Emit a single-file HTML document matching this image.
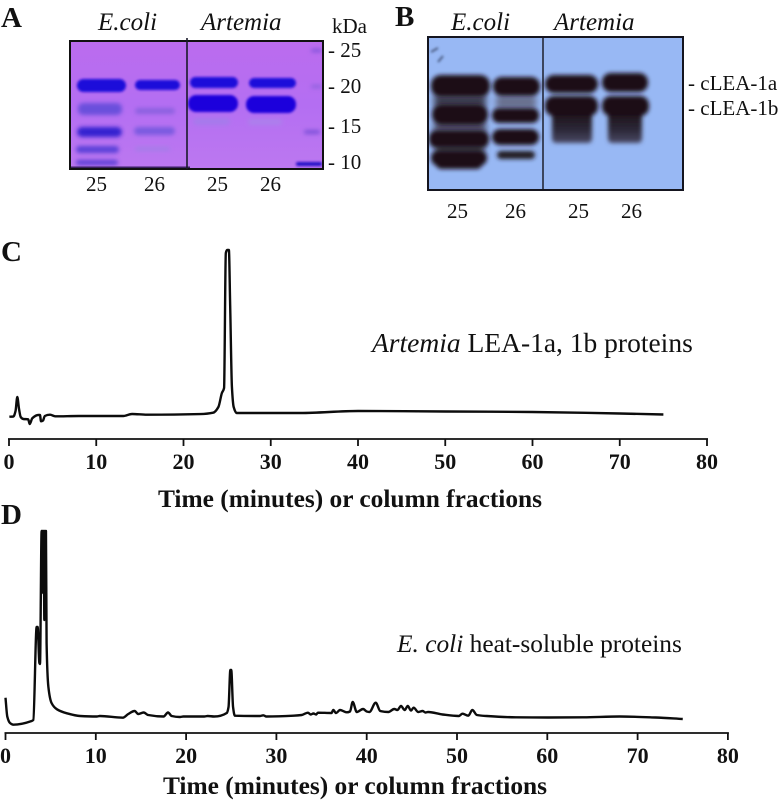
<!DOCTYPE html>
<html><head><meta charset="utf-8"><style>
html,body{margin:0;padding:0;background:#fff}
svg{display:block}
text{font-family:"Liberation Serif",serif;fill:#111}
.p{font-size:29px;font-weight:bold}
.n{font-size:21px}
.i{font-size:25px;font-style:italic}
.t{font-size:22px;font-weight:bold;text-anchor:middle}
.at{font-size:25.400px;font-weight:bold;text-anchor:middle}
.c{font-size:21px}
</style></head><body>
<svg id="fig" width="780" height="803" viewBox="0 0 780 803" xmlns="http://www.w3.org/2000/svg">
<defs>
<filter id="b1" x="-30%" y="-100%" width="160%" height="300%"><feGaussianBlur stdDeviation="1.300"/></filter>
<filter id="b2" x="-30%" y="-100%" width="160%" height="300%"><feGaussianBlur stdDeviation="2"/></filter>
<filter id="b4" x="-40%" y="-80%" width="180%" height="260%"><feGaussianBlur stdDeviation="3.500"/></filter>
<linearGradient id="gelbg" x1="0" y1="0" x2="0" y2="1"><stop offset="0" stop-color="#bb6cee"/><stop offset=".5" stop-color="#b46ef2"/><stop offset="1" stop-color="#bc78f0"/></linearGradient>
<linearGradient id="smear" x1="0" y1="0" x2="0" y2="1"><stop offset="0" stop-color="#1c1014"/><stop offset=".6" stop-color="#2c2838"/><stop offset="1" stop-color="#4a4a66"/></linearGradient>
<clipPath id="gelclip"><rect x="70" y="41" width="253" height="128"/></clipPath>
<clipPath id="blotclip"><rect x="428" y="37" width="255" height="153"/></clipPath>
</defs>

<text class="p" x="1" y="27">A</text>
<text class="i" x="98" y="30">E.coli</text>
<text class="i" x="201" y="30">Artemia</text>
<text class="n" x="332" y="33">kDa</text>
<g>
<rect x="70" y="41" width="253" height="128" fill="url(#gelbg)"/>
<g clip-path="url(#gelclip)">
<g filter="url(#b1)">
<rect x="77" y="79" width="49" height="13" rx="6.500" fill="#1c08da"/>
<rect x="135" y="80" width="45" height="10" rx="5" fill="#1c08da"/>
<rect x="190" y="77" width="48" height="11" rx="5.500" fill="#1c08da"/>
<rect x="249" y="78" width="47" height="10" rx="5" fill="#1c08da"/>
<rect x="188" y="95" width="50" height="17" rx="8" fill="#1a06dc"/>
<rect x="246" y="96" width="50" height="17" rx="8" fill="#1a06dc"/>
</g>
<g filter="url(#b2)">
<rect x="78" y="103" width="44" height="12" rx="5" fill="#6a50dc"/>
<rect x="135" y="108" width="40" height="6" rx="3" fill="#8b60e0"/>
<rect x="77" y="127" width="45" height="10" rx="5" fill="#3420d0"/>
<rect x="134" y="127" width="41" height="8" rx="4" fill="#7a5ae0"/>
<rect x="76" y="146" width="43" height="7" rx="3.500" fill="#5a40d8"/>
<rect x="135" y="147" width="35" height="4" rx="2" fill="#a47de8"/>
<rect x="76" y="160" width="42" height="5" rx="2.500" fill="#5a3ed6"/>
<rect x="193" y="118" width="37" height="7" rx="3.500" fill="#a67aec"/>
<rect x="248" y="119" width="34" height="6" rx="3" fill="#ac80ec"/>
<rect x="311" y="49" width="11" height="3" rx="1.500" fill="#7a50d8"/>
<rect x="311" y="85" width="11" height="3" rx="1.500" fill="#8a60dc"/>
<rect x="304" y="130" width="16" height="4" rx="2" fill="#7a50d8"/>
</g>
<g filter="url(#b1)">
<rect x="296" y="162" width="26" height="4" rx="2" fill="#2410c8"/>
</g>
<rect x="70" y="166.500" width="120" height="3" fill="#3a2060"/>
</g>
<rect x="70" y="41" width="253" height="128" fill="none" stroke="#111" stroke-width="2"/>
<line x1="187" y1="38" x2="187" y2="169" stroke="#1a1a2a" stroke-width="1.600"/>
</g>
<g>
<text class="n" x="328" y="57">- 25</text>
<text class="n" x="328" y="93">- 20</text>
<text class="n" x="328" y="133">- 15</text>
<text class="n" x="328" y="169">- 10</text>
</g>
<g>
<text class="n" x="86" y="191">25</text><text class="n" x="144" y="191">26</text>
<text class="n" x="207" y="191">25</text><text class="n" x="260" y="191">26</text>
</g>

<text class="p" x="395" y="26">B</text>
<text class="i" x="451" y="30">E.coli</text>
<text class="i" x="554" y="30">Artemia</text>
<g>
<rect x="428" y="37" width="255" height="153" fill="#98b8f4"/>
<g clip-path="url(#blotclip)">
<g filter="url(#b4)">
<rect x="434" y="95" width="52" height="12" fill="#3a3a4c"/>
<rect x="496" y="96" width="40" height="12" fill="#666c88"/>
<rect x="434" y="122" width="52" height="10" fill="#4a4a60"/>
<rect x="436" y="145" width="48" height="8" fill="#3a3a4c"/>
</g>
<g filter="url(#b2)">
<rect x="552" y="110" width="40" height="33" rx="4" fill="url(#smear)"/>
<rect x="608" y="110" width="34" height="33" rx="4" fill="url(#smear)"/>
<rect x="431" y="75" width="59" height="22" rx="10" fill="#1c1014"/>
<rect x="493" y="77" width="47" height="19" rx="9" fill="#1c1014"/>
<rect x="432" y="104" width="56" height="21" rx="10" fill="#1c1014"/>
<rect x="492" y="108" width="47" height="15" rx="7" fill="#1c1014"/>
<rect x="429" y="130" width="60" height="18" rx="8" fill="#1c1014"/>
<rect x="492" y="129" width="47" height="16" rx="8" fill="#1c1014"/>
<rect x="431" y="150" width="56" height="16" rx="8" fill="#1c1014"/>
<rect x="436" y="156" width="46" height="13" rx="5" fill="#1c1014"/>
<rect x="497" y="151" width="38" height="8" rx="4" fill="#241a22"/>
<rect x="545" y="75" width="53" height="18" rx="9" fill="#1c1014"/>
<rect x="602" y="73" width="46" height="19" rx="9" fill="#1c1014"/>
<rect x="545" y="96" width="53" height="20" rx="9" fill="#1c1014"/>
<rect x="602" y="96" width="47" height="20" rx="9" fill="#1c1014"/>
</g>
<path d="M431 52l7-4M438 62l5-6" stroke="#4a5a80" stroke-width="2" filter="url(#b1)"/>
</g>
<rect x="428" y="37" width="255" height="153" fill="none" stroke="#15151f" stroke-width="2"/>
<line x1="543" y1="37" x2="543" y2="190" stroke="#15151f" stroke-width="1.400"/>
</g>
<text class="c" x="688" y="90">- cLEA-1a</text>
<text class="c" x="688" y="115">- cLEA-1b</text>
<g>
<text class="n" x="447" y="218">25</text><text class="n" x="505" y="218">26</text>
<text class="n" x="568" y="218">25</text><text class="n" x="621" y="218">26</text>
</g>

<text class="p" x="1" y="261">C</text>
<text x="372" y="352" style="font-size:27.500px"><tspan font-style="italic">Artemia</tspan> LEA-1a, 1b proteins</text>
<text class="at" x="350" y="507">Time (minutes) or column fractions</text>

<text class="p" x="1" y="524">D</text>
<text x="397" y="652" style="font-size:25.400px"><tspan font-style="italic">E. coli</tspan> heat-soluble proteins</text>
<text class="at" x="355" y="794">Time (minutes) or column fractions</text>

<g id="chart-c"></g>
<g id="chart-d"></g>
</svg>
<script>
var tickLabels = [0, 10, 20, 30, 40, 50, 60, 70, 80];
var timesC = [0.04,0.5,0.75,0.95,1.15,1.34,1.65,2.2,2.37,2.67,3.36,3.55,3.67,3.9,4.1,4.7,5.3,8,13.1,14.1,15.8,21.9,23.4,24,24.4,24.65,24.85,25,25.2,25.35,25.55,25.75,26.1,33.4,40,50,60,70,75];
var signalC = [22.3,22.5,28,42,30,22,20,19.7,15,20.7,24,24,17.7,18.5,23,24.3,22.7,23,23,25,24.3,24.9,26.3,32,46,51,186,189,189,133,52,32,26,26,28,27.5,27,25.5,24.5];
var timesD = [0,0.2,0.5,0.87,2.9,3.08,3.45,3.56,3.75,3.82,4.0,4.06,4.12,4.18,4.24,4.3,4.36,4.42,4.48,4.55,4.75,5.1,5.7,6.8,8.26,10.1,10.45,13,13.6,14.3,14.7,15.3,15.8,17.5,18,18.4,19.3,19.7,22,22.4,23.1,24.5,24.7,24.9,25,25.2,25.4,28.2,28.55,28.9,31.9,32.8,33.5,33.8,34.1,34.4,34.6,36.1,36.3,36.6,37.05,37.8,38.15,38.45,38.9,39.6,40,40.3,41,41.5,42.4,43.05,43.4,43.8,44.2,44.55,44.9,45.2,45.7,46.2,46.5,46.8,48.4,50.2,50.6,51.25,51.7,52.2,53.3,56.5,60,64,68,72,75];
var signalD = [35.3,16.3,10,8.3,12,13,106,106,70,69,202,150,202,140,202,113,202,140,202,90,46,30,23.7,19.7,17,16.5,17,15.3,19,22,19,20.5,18,16.5,20.5,17,16,16.5,16.5,17,16.5,20,26,63,63,26,17.3,17,17.7,16.5,17.3,18,20.3,18.5,19.5,18.5,20.3,20,23,20,23,20.7,21.5,31,21,24,21.5,21,30.3,22,21,24,23,27,23,27,22.5,25.3,21,22,20.5,21,18.5,17,19.3,17.3,23,18,17,15.7,15.5,15.7,16.5,15.5,14];

var NS = 'http://www.w3.org/2000/svg';
function makeX(x0, pxPer10) { return function (t) { return x0 + t * pxPer10 / 10; }; }
function makeY(axisY) { return function (v) { return axisY - v; }; }

var groupC = document.getElementById('chart-c');
var groupD = document.getElementById('chart-d');

function drawAxis(group, x, axisY, labelY) {
  var base = document.createElementNS(NS, 'line');
  
  
  base.setAttribute('x1', x(0) - 1);
  base.setAttribute('x2', x(80) + 1);
  base.setAttribute('y1', axisY);
  base.setAttribute('y2', axisY);
  base.setAttribute('stroke', '#111');
  base.setAttribute('stroke-width', '1.8');
  group.appendChild(base);
  tickLabels.forEach(function (value) {
    var tick = document.createElementNS(NS, 'line');
    
    
    tick.setAttribute('x1', x(value));
    tick.setAttribute('x2', x(value));
    tick.setAttribute('y1', axisY);
    tick.setAttribute('y2', axisY + 7);
    tick.setAttribute('stroke', '#111');
    tick.setAttribute('stroke-width', '1.8');
    group.appendChild(tick);
    var label = document.createElementNS(NS, 'text');
    
    
    label.setAttribute('class', 't');
    label.setAttribute('x', x(value));
    label.setAttribute('y', labelY);
    label.textContent = value;
    group.appendChild(label);
  });
}

/* monotone cubic path through the mapped data points */
function smoothPath(px, py) {
  var n = px.length, m = [], s = [], i;
  for (i = 0; i < n - 1; i++) s[i] = (py[i + 1] - py[i]) / (px[i + 1] - px[i]);
  m[0] = s[0];
  m[n - 1] = s[n - 2];
  for (i = 1; i < n - 1; i++) {
    m[i] = s[i - 1] * s[i] <= 0 ? 0 :
      3 * (px[i + 1] - px[i - 1]) / ((2 * px[i + 1] - px[i] - px[i - 1]) / s[i - 1] + (px[i + 1] + px[i] - 2 * px[i - 1]) / s[i]);
  }
  var d = 'M' + px[0].toFixed(2) + ' ' + py[0].toFixed(2);
  for (i = 0; i < n - 1; i++) {
    var h = (px[i + 1] - px[i]) / 3;
    d += 'C' + (px[i] + h).toFixed(2) + ' ' + (py[i] + m[i] * h).toFixed(2) + ' ' +
      (px[i + 1] - h).toFixed(2) + ' ' + (py[i + 1] - m[i + 1] * h).toFixed(2) + ' ' +
      px[i + 1].toFixed(2) + ' ' + py[i + 1].toFixed(2);
  }
  return d;
}

function drawTrace(group, x, y, times, signal, name) {
  var path = document.createElementNS(NS, 'path');
  
  
  path.setAttribute('d', smoothPath(times.map(x), signal.map(y)));
  path.setAttribute('fill', 'none');
  path.setAttribute('stroke', '#0c0c0c');
  path.setAttribute('stroke-width', '2.4');
  path.setAttribute('stroke-linejoin', 'round');
  group.appendChild(path);
}

var xC = makeX(9, 87.25), yC = makeY(439);
var xD = makeX(5.5, 90.3), yD = makeY(733);
drawAxis(groupC, xC, 439, 469);
drawAxis(groupD, xD, 733, 763);
drawTrace(groupC, xC, yC, timesC, signalC, 'artemia-trace');
drawTrace(groupD, xD, yD, timesD, signalD, 'ecoli-trace');
</script>
</body></html>
